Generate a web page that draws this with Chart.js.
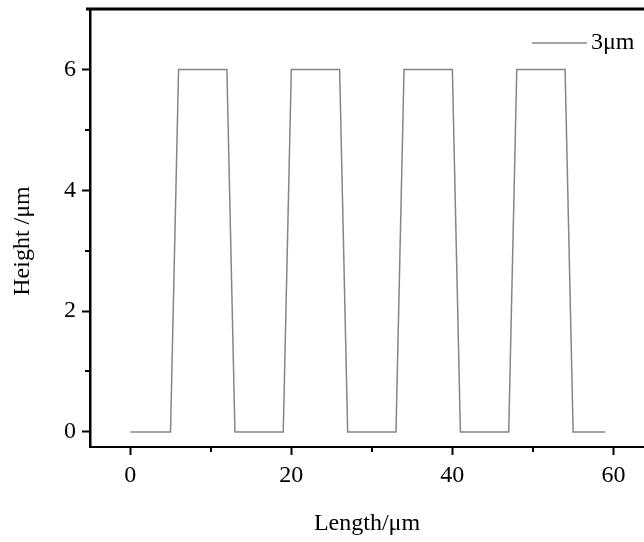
<!DOCTYPE html>
<html>
<head>
<meta charset="utf-8">
<script src="https://cdn.jsdelivr.net/npm/chart.js@4/dist/chart.umd.min.js"></script>
<style>
  html, body { margin: 0; padding: 0; background: #fff; }
  #wrap { width: 644px; height: 542px; }
</style>
</head>
<body>
<div id="wrap"><canvas id="c" width="644" height="542"></canvas></div>
<script>
// Data
const lengths = [0, 5, 6, 12, 13, 19, 20, 26, 27, 33, 34, 40, 41, 47, 48, 54, 55, 59];
const heights = [0, 0, 6, 6, 0, 0, 6, 6, 0, 0, 6, 6, 0, 0, 6, 6, 0, 0];
const seriesLabel = '3μm';
const xMajorTicks = [0, 20, 40, 60];
const xMinorTicks = [10, 30, 50];
const yMajorTicks = [0, 2, 4, 6];
const yMinorTicks = [1, 3, 5];
const xTitle = 'Length/μm';
const yTitle = 'Height /μm';

const FONT = '"Liberation Serif", "Times New Roman", serif';
const LINE_COLOR = '#858585';

const points = lengths.map((x, i) => ({ x: x, y: heights[i] }));

const decorations = {
  id: 'decorations',
  afterDraw(chart) {
    const ctx = chart.ctx;
    const a = chart.chartArea;
    const xs = chart.scales.x, ys = chart.scales.y;
    ctx.save();
    // top frame line
    ctx.strokeStyle = '#000';
    ctx.lineWidth = 3;
    ctx.beginPath();
    ctx.moveTo(a.left - 4, a.top);
    ctx.lineTo(a.right, a.top);
    ctx.stroke();
    // minor ticks
    ctx.lineWidth = 2;
    ctx.beginPath();
    xMinorTicks.forEach(v => {
      const px = Math.round(xs.getPixelForValue(v));
      ctx.moveTo(px, a.bottom);
      ctx.lineTo(px, a.bottom + 5);
    });
    yMinorTicks.forEach(v => {
      const py = Math.round(ys.getPixelForValue(v));
      ctx.moveTo(a.left, py);
      ctx.lineTo(a.left - 5, py);
    });
    ctx.stroke();
    // y-axis title
    ctx.fillStyle = '#000';
    ctx.font = '24px ' + FONT;
    ctx.textAlign = 'center';
    ctx.textBaseline = 'middle';
    ctx.save();
    ctx.translate(23, (a.top + a.bottom) / 2 + 13);
    ctx.rotate(-Math.PI / 2);
    ctx.fillText(yTitle, 0, 0);
    ctx.restore();
    // legend
    const lx0 = a.right - 112, lx1 = a.right - 57, ly = a.top + 34;
    ctx.strokeStyle = LINE_COLOR;
    ctx.lineWidth = 1.5;
    ctx.beginPath();
    ctx.moveTo(lx0, ly);
    ctx.lineTo(lx1, ly);
    ctx.stroke();
    ctx.fillStyle = '#000';
    ctx.font = '24px ' + FONT;
    ctx.textBaseline = 'middle';
    ctx.textAlign = 'left';
    ctx.fillText(seriesLabel, lx1 + 4, ly);
    ctx.restore();
  }
};

new Chart(document.getElementById('c'), {
  type: 'line',
  data: {
    datasets: [{
      label: seriesLabel,
      data: points,
      borderColor: LINE_COLOR,
      borderWidth: 1.5,
      pointRadius: 0,
      tension: 0,
      fill: false
    }]
  },
  options: {
    responsive: false,
    animation: false,
    devicePixelRatio: 1,
    layout: { padding: { top: 9, right: 0, left: 0, bottom: 0 } },
    plugins: { legend: { display: false }, tooltip: { enabled: false } },
    scales: {
      x: {
        type: 'linear',
        min: -5,
        max: 63.8,
        afterBuildTicks(scale) { scale.ticks = xMajorTicks.map(v => ({ value: v })); },
        afterFit(scale) { scale.height = 95; scale.paddingLeft = 0; scale.paddingRight = 0; },
        grid: { display: true, drawOnChartArea: false, drawTicks: true, tickLength: 8, tickWidth: 2, tickColor: '#000', color: '#000' },
        border: { display: true, color: '#000', width: 2 },
        ticks: { color: '#000', padding: 6, maxRotation: 0, font: { family: FONT, size: 24 } },
        title: { display: true, text: xTitle, color: '#000', font: { family: FONT, size: 24 }, padding: { top: 0, bottom: 4 } }
      },
      y: {
        type: 'linear',
        min: -0.25,
        max: 7,
        afterBuildTicks(scale) { scale.ticks = yMajorTicks.map(v => ({ value: v })); },
        afterFit(scale) { scale.width = 90; scale.paddingTop = 0; scale.paddingBottom = 0; },
        grid: { display: true, drawOnChartArea: false, drawTicks: true, tickLength: 8, tickWidth: 2, tickColor: '#000', color: '#000' },
        border: { display: true, color: '#000', width: 2.5 },
        ticks: { color: '#000', padding: 6, font: { family: FONT, size: 24 } },
        title: { display: false }
      }
    }
  },
  plugins: [decorations]
});
</script>
</body>
</html>
